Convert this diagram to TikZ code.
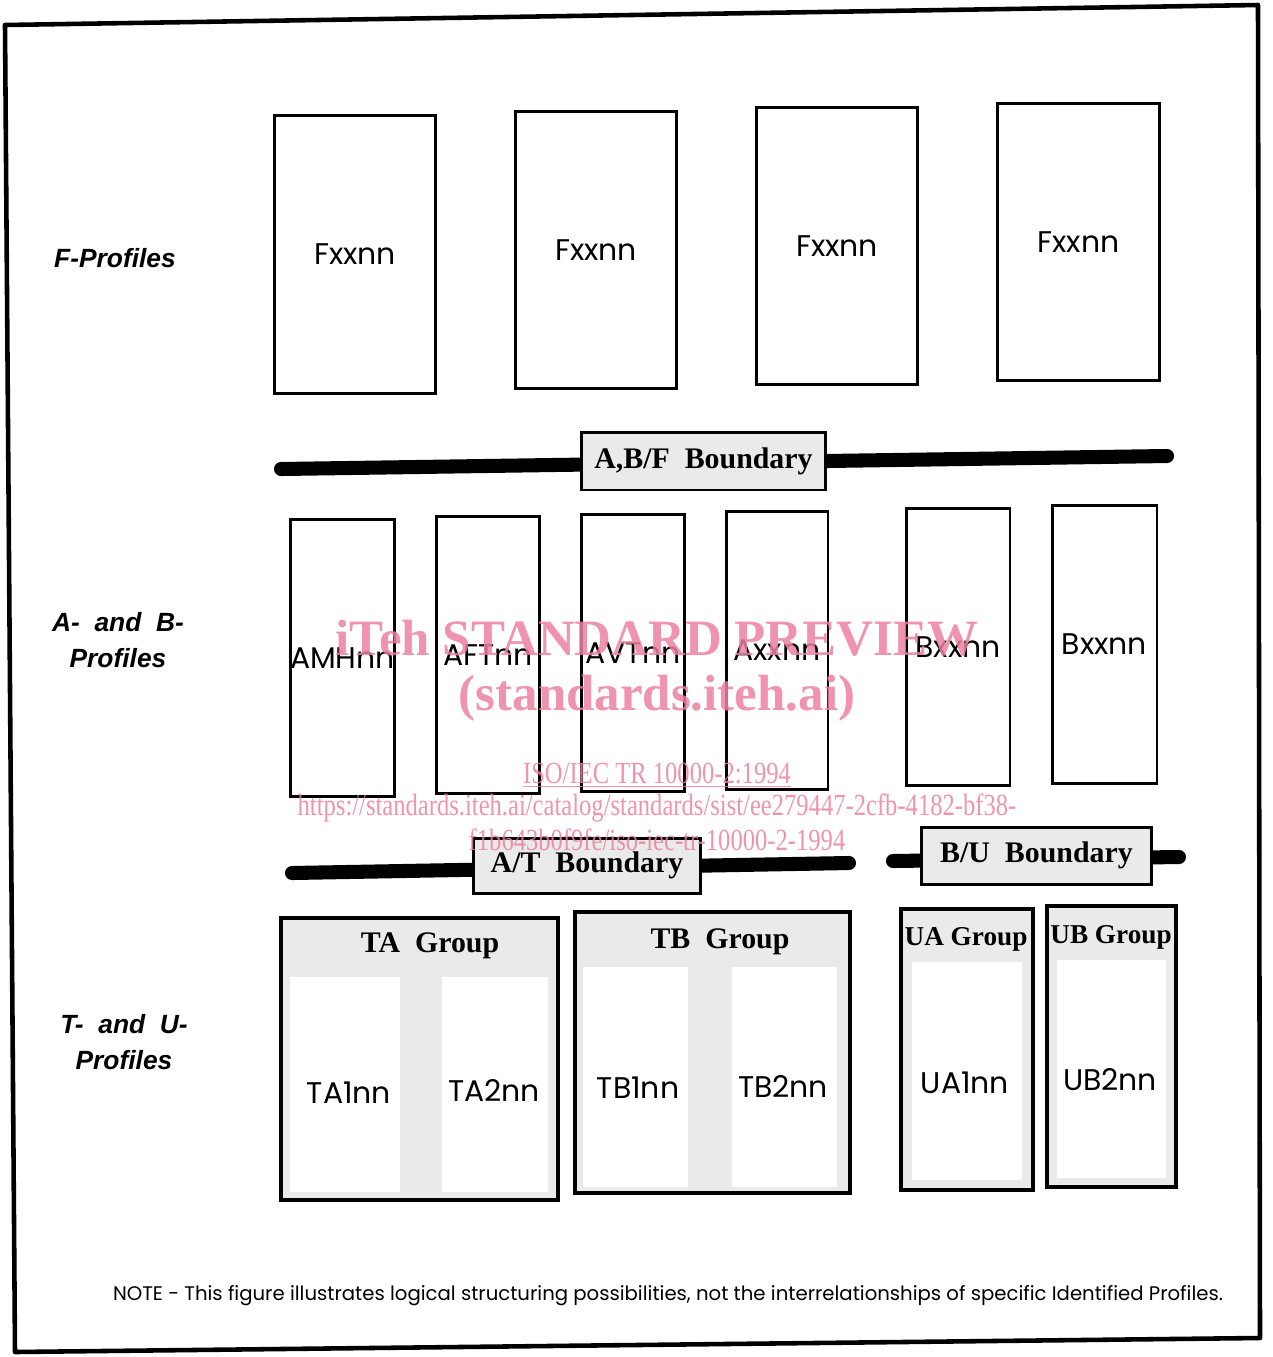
\documentclass[tikz,border=0pt]{standalone}
\usepackage{fontspec}
\setmainfont{Liberation Serif}
\newfontfamily\gothic{Poppins}
\newfontfamily\helv{Liberation Sans}
\newfontfamily\narrowserif[FakeStretch=0.8]{Liberation Serif}
\usetikzlibrary{positioning}
\definecolor{wmpink}{RGB}{236,128,160}
\definecolor{stipple}{RGB}{234,234,234}

\tikzset{
	outerframe/.style={line width=2.6pt, line join=round},
	profbox/.style={draw, line width=1.7pt, minimum height=5.56cm, inner sep=0pt,
		font=\gothic\fontsize{17}{20}\selectfont},
	proflabel/.style={font=\gothic\fontsize{17}{20}\selectfont, inner sep=0pt},
	rowlabel/.style={font=\helv\bfseries\itshape\fontsize{15}{20}\selectfont, align=center},
	bndbar/.style={line width=8pt, line cap=round},
	bndbox/.style={draw, line width=1.7pt, fill=stipple, inner sep=0pt,
		font=\bfseries\fontsize{17}{20}\selectfont},
	groupbox/.style={draw, line width=1.8pt, fill=stipple},
	grouptitle/.style={font=\bfseries\fontsize{17}{20}\selectfont, inner sep=0pt},
	wmbig/.style={text=wmpink, opacity=0.85, font=\bfseries\fontsize{29}{34}\selectfont},
	wmsmall/.style={text=wmpink, opacity=0.85, font=\narrowserif\fontsize{17.5}{20}\selectfont}
}

\begin{document}
\begin{tikzpicture}[x=0.02cm, y=-0.02cm]
		\useasboundingbox (0,0) rectangle (1273,1357);
		\draw [outerframe] (5,25) -- (1258,5) -- (1260,1338) -- (15,1352) -- cycle;

		% row labels
		\node [rowlabel] (flab) at (115,258) {F-Profiles};
		\node [rowlabel] (ablab) at (118,640) {A-\ \ and\ \ B-\\Profiles};
		\node [rowlabel] (tulab) at (124,1042) {T-\ \ and\ \ U-\\Profiles};

		% F-Profiles
		\foreach \cx/\cy [count=\i] in {355/254.5, 596/250, 837/246, 1078.5/242}
			\node [profbox, minimum width=3.24cm] (f\i) at (\cx,\cy) {Fxxnn};

		% A- and B-Profiles
		\node [profbox, minimum width=2.06cm] (amh) at (342.5,658) {AMHnn};
		\node [profbox, minimum width=2.06cm] (aft) at (488,655) {AFTnn};
		\node [profbox, minimum width=2.06cm] (avt) at (633,653) {AVTnn};
		\node [profbox, minimum width=2.04cm] (axx) at (777,650.5) {Axxnn};
		\node [profbox, minimum width=2.08cm] (bxa) at (958,647) {Bxxnn};
		\node [profbox, minimum width=2.10cm] (bxb) at (1104.5,644.5) {Bxxnn};

		% boundaries
		\coordinate (abfL) at (281,469);
		\coordinate (abfR) at (1167,456);
		\draw [bndbar] (abfL) -- (abfR);
		\node [bndbox, minimum width=4.9cm, minimum height=1.16cm] (abf) at (703.5,461) {A,B/F\ \ Boundary};

		\coordinate (atL) at (292,873);
		\coordinate (atR) at (849,863);
		\draw [bndbar] (atL) -- (atR);
		\node [bndbox, minimum width=4.56cm, minimum height=1.1cm] (at) at (587,865.5) {A/T\ \ Boundary};

		\coordinate (buL) at (893,861);
		\coordinate (buR) at (1179,857);
		\draw [bndbar] (buL) -- (buR);
		\node [bndbox, minimum width=4.62cm, minimum height=1.14cm] (bu) at (1036.5,855.5) {B/U\ \ Boundary};

		% T- and U-Profiles
		\draw [groupbox] (281,918) rectangle (558,1200);
		\fill [white] (290,977) rectangle (400,1192);
		\fill [white] (442,977) rectangle (548,1192);
		\node [grouptitle] (tag) at (430,946) {TA\ \ Group};
		\node [proflabel] (ta1) at (349,1093) {TA1nn};
		\node [proflabel] (ta2) at (494,1090) {TA2nn};

		\draw [groupbox] (575,912) rectangle (850,1193);
		\fill [white] (583,967) rectangle (688,1187);
		\fill [white] (732,967) rectangle (837,1187);
		\node [grouptitle] (tbg) at (720,942) {TB\ \ Group};
		\node [proflabel] (tb1) at (638,1088) {TB1nn};
		\node [proflabel] (tb2) at (783,1086) {TB2nn};

		\draw [groupbox] (901,909) rectangle (1033,1190);
		\fill [white] (912,962) rectangle (1022,1180);
		\node [grouptitle, font=\bfseries\fontsize{15.5}{18}\selectfont] (uag) at (966,939) {UA\ Group};
		\node [proflabel] (ua1) at (965,1083) {UA1nn};

		\draw [groupbox] (1047,906) rectangle (1176,1187);
		\fill [white] (1057,960) rectangle (1166,1178);
		\node [grouptitle, font=\bfseries\fontsize{15.5}{18}\selectfont] (ubg) at (1111,937) {UB\ Group};
		\node [proflabel] (ub2) at (1110,1080) {UB2nn};

		% note
		\node [font=\gothic\fontsize{11.2}{14}\selectfont] (note) at (668,1296)
			{NOTE - This figure illustrates logical structuring possibilities, not the interrelationships of specific Identified Profiles.};

		% watermark
		\node [wmbig] (wm1) at (657,638) {iTeh STANDARD PREVIEW};
		\node [wmbig] (wm2) at (657,698) {(standards.iteh.ai)};
		\node [wmsmall] (wm3) at (657,775) {\underline{ISO/IEC TR 10000-2:1994}};
		\node [wmsmall] (wm4) at (657,808) {https://standards.iteh.ai/catalog/standards/sist/ee279447-2cfb-4182-bf38-};
		\node [wmsmall] (wm5) at (657,840) {f1b643b0f9fe/iso-iec-tr-10000-2-1994};

		\end{tikzpicture}
\end{document}
